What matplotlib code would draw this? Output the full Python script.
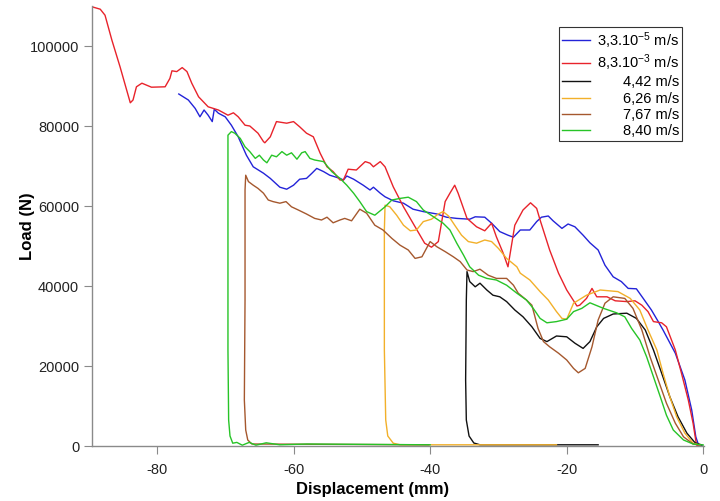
import numpy as np
import matplotlib
matplotlib.use("Agg")
import matplotlib.pyplot as plt

plt.rcParams['font.family'] = ['Liberation Sans', 'DejaVu Sans']
plt.rcParams['mathtext.fontset'] = 'custom'
plt.rcParams['mathtext.rm'] = 'Liberation Sans'
plt.rcParams['mathtext.default'] = 'regular'
plt.rcParams['axes.unicode_minus'] = False

# load-displacement curves (displacement mm, load N)
labels = [r"3,3.10$^{-5}$ m/s", r"8,3.10$^{-3}$ m/s", "4,42 m/s",
          "6,26 m/s", "7,67 m/s", "8,40 m/s"]
colors = ["#2323d8", "#e8232b", "#111111", "#f2b02a", "#a5582e", "#27c427"]

blue_x = [-76.8, -75.4, -74.4, -73.7, -73.1, -72.5, -71.9, -71.6, -71.0, -70.0,
          -69.1, -68.1, -66.9, -65.9, -64.4, -63.4, -62.0, -61.0, -60.0, -59.1,
          -58.1, -57.3, -56.6, -55.6, -54.7, -53.2, -52.7, -52.2, -51.2, -49.8,
          -48.8, -48.3, -47.3, -46.6, -45.4, -43.9, -42.5, -41.0, -39.0, -37.6,
          -36.1, -34.2, -33.4, -32.0, -31.0, -29.8, -28.6, -27.8, -26.8, -25.4,
          -24.4, -23.7, -22.7, -22.0, -20.7, -19.8, -18.8, -17.6, -16.6, -15.4,
          -14.4, -13.2, -12.0, -11.0, -9.8, -8.8, -7.6, -6.6, -5.9, -4.1,
          -2.7, -1.7, -1.1, -0.7, -0.2]
blue_y = [88000, 86500, 84400, 82300, 84000, 82700, 81100, 84200, 83200, 82300,
          80200, 77300, 72700, 69800, 68200, 66900, 64700, 64200, 65200, 66700,
          66900, 68200, 69400, 68600, 67700, 66900, 66500, 67500, 66700, 65200,
          64000, 64700, 63200, 62300, 61300, 60700, 59200, 58600, 58000, 57200,
          56900, 56700, 57300, 57200, 55700, 53600, 52700, 52200, 54000, 54000,
          56100, 57200, 57500, 56300, 54400, 55500, 54800, 52700, 50800, 49000,
          45200, 42300, 41100, 39400, 39300, 36900, 34000, 31100, 29000, 23200,
          16500, 9000, 2300, 250, 0]

red_x = [-89.5, -88.3, -87.6, -86.6, -85.4, -83.9, -83.5, -83.0, -82.2, -80.8,
         -78.8, -78.1, -77.8, -77.1, -76.3, -75.6, -74.9, -73.9, -72.5, -71.0,
         -69.6, -68.8, -68.1, -67.1, -66.4, -65.2, -64.4, -64.2, -63.4, -62.5,
         -61.0, -60.0, -59.1, -58.1, -57.1, -56.1, -55.1, -54.2, -53.2, -52.7,
         -52.0, -50.8, -49.5, -48.8, -48.3, -47.3, -46.6, -45.4, -43.9, -42.2,
         -40.8, -39.8, -38.8, -37.8, -37.1, -36.4, -35.9, -34.6, -33.2, -32.0,
         -31.0, -30.3, -29.3, -28.6, -27.6, -26.4, -25.3, -24.4, -23.9, -22.5,
         -21.2, -20.0, -18.5, -18.1, -17.1, -16.3, -15.6, -14.1, -12.9, -11.2,
         -10.0, -9.0, -8.1, -7.3, -6.1, -5.4, -4.1, -3.2, -2.2, -1.5, -1.0, -0.5]
red_y = [109800, 109200, 107700, 101500, 94800, 85800, 86500, 89800, 90700, 89700,
         89800, 91900, 93800, 93600, 94600, 93600, 90700, 87300, 84800, 84000,
         82700, 83300, 82300, 80200, 80000, 78200, 76100, 75800, 77300, 81100,
         80700, 81100, 79800, 78200, 77300, 73200, 69800, 68600, 66500, 66500,
         69200, 69000, 71100, 70700, 69800, 71100, 69800, 64800, 59800, 54800,
         50700, 49700, 51100, 61100, 63200, 65200, 63200, 56900, 54800, 53800,
         55700, 52300, 48200, 44800, 55200, 59000, 60800, 59400, 56500, 49000,
         43200, 39000, 35000, 35200, 36900, 39400, 37300, 37300, 36300, 36100,
         36300, 35200, 33600, 31100, 30800, 29800, 24000, 18200, 11500, 5700, 250, 0]

black_x = [-15.4, -32.7, -33.6, -34.3, -34.7, -34.8, -34.7, -34.6, -34.2, -33.4,
           -32.7, -31.7, -30.8, -29.8, -28.8, -27.6, -26.4, -25.1, -23.9, -22.9,
           -21.5, -20.0, -18.8, -17.6, -16.6, -15.6, -14.6, -13.2, -11.2, -9.8,
           -8.5, -7.3, -6.1, -4.9, -3.7, -2.4, -1.2, -0.2]
black_y = [300, 300, 750, 2500, 6500, 16500, 36500, 43600, 41100, 39800,
           40700, 39000, 37700, 37300, 36100, 34000, 32300, 29800, 26900, 26100,
           27500, 27300, 25700, 24400, 26100, 29800, 31900, 33000, 33200, 31900,
           29000, 24000, 18200, 12300, 7300, 3200, 800, 250]

orange_x = [-21.5, -44.4, -45.4, -46.2, -46.5, -46.7, -46.7, -46.6, -45.9, -44.9,
            -43.9, -42.9, -42.0, -41.0, -39.8, -38.8, -38.1, -37.3, -36.4, -35.4,
            -34.4, -33.2, -32.0, -31.0, -30.0, -28.8, -27.3, -26.8, -25.4, -23.9,
            -22.7, -21.5, -20.7, -20.0, -19.0, -17.1, -15.1, -12.5, -10.7, -9.3,
            -8.1, -6.8, -5.9, -4.9, -3.9, -2.7, -1.5, -0.5]
orange_y = [300, 300, 700, 2500, 6500, 24000, 54000, 60200, 59800, 57700,
            55200, 53800, 54000, 56100, 56700, 58000, 58600, 57500, 55200, 52700,
            51100, 50700, 51500, 51100, 49400, 46900, 44800, 43200, 41500, 38600,
            36500, 33600, 31900, 31700, 35700, 37700, 39000, 38600, 36900, 34000,
            29000, 24000, 18200, 12300, 7300, 3200, 700, 250]

brown_x = [-40.2, -66.1, -66.7, -67.0, -67.2, -67.1, -67.1, -67.0, -66.6, -65.9,
           -65.2, -64.4, -63.7, -63.0, -62.0, -61.1, -60.3, -59.3, -58.1, -56.9,
           -55.9, -55.1, -54.2, -53.2, -52.5, -51.5, -50.3, -49.3, -48.1, -46.9,
           -45.6, -44.4, -43.2, -42.2, -41.2, -40.0, -39.0, -37.8, -36.6, -35.6,
           -34.6, -33.7, -32.7, -31.5, -30.3, -28.8, -27.8, -27.1, -25.9, -25.1,
           -24.2, -23.4, -22.5, -21.2, -20.0, -19.0, -18.3, -17.3, -16.3, -15.4,
           -14.4, -13.2, -11.5, -10.3, -9.0, -7.8, -6.6, -5.4, -4.1, -2.9, -1.5, -0.5]
brown_y = [300, 500, 1500, 4000, 11500, 36500, 64000, 67700, 66100, 65200,
           64400, 63200, 61500, 61100, 60700, 61100, 59800, 59000, 58000, 56900,
           56500, 57200, 55800, 56500, 56900, 56300, 59200, 58200, 55200, 54000,
           51900, 50200, 49000, 46900, 47300, 51100, 49800, 48600, 47300, 46100,
           44000, 43600, 44200, 42700, 41900, 41900, 40200, 38200, 36500, 35200,
           29400, 26100, 24800, 23200, 21500, 19400, 18300, 19400, 24800, 31500,
           35700, 37300, 36900, 34400, 29000, 22300, 16500, 10700, 5700, 2300, 500, 250]

green_x = [-40.0, -58.0, -62.0, -64.0, -65.5, -66.5, -67.5, -68.3, -68.9, -69.3,
           -69.5, -69.6, -69.6, -69.6, -69.1, -68.6, -67.8, -67.1, -66.4, -65.6,
           -65.0, -64.4, -63.9, -63.2, -62.5, -61.7, -61.0, -60.3, -59.5, -58.8,
           -58.3, -57.6, -56.9, -55.6, -54.4, -53.2, -52.2, -51.2, -50.3, -49.3,
           -48.1, -46.6, -45.6, -44.4, -43.2, -42.0, -41.0, -39.5, -38.1, -37.1,
           -36.1, -35.1, -34.2, -32.9, -31.7, -30.3, -28.8, -27.3, -25.9, -24.9,
           -23.9, -22.9, -21.5, -20.0, -19.0, -17.8, -16.6, -14.6, -12.7, -11.5,
           -10.5, -9.3, -8.3, -7.3, -6.3, -5.4, -4.4, -2.9, -1.5, 0.0]
green_y = [300, 500, 300, 800, 200, 900, 200, 900, 700, 2500,
           6500, 24000, 61500, 77700, 78600, 78200, 76900, 74800, 73600, 71900,
           72700, 71500, 70800, 72700, 72300, 73600, 72700, 73300, 71700, 73300,
           73600, 71900, 71500, 71100, 68600, 66900, 65200, 63200, 61100, 58600,
           57700, 59800, 61500, 61900, 62200, 61100, 59000, 57300, 55700, 54000,
           50700, 47700, 44800, 42700, 41900, 41500, 40200, 38200, 36500, 34400,
           31900, 30800, 31100, 31700, 33600, 34400, 35800, 34400, 33300, 32300,
           29400, 26500, 22300, 17300, 12300, 7700, 4000, 1500, 500, 250]

series_x = [blue_x, red_x, black_x, orange_x, brown_x, green_x]
series_y = [blue_y, red_y, black_y, orange_y, brown_y, green_y]

fig = plt.figure(figsize=(7.2, 5.01), dpi=100)
ax = fig.add_axes([91.7 / 720, 1 - 446 / 501, 612.3 / 720, 440 / 501])

for xs, ys, c, lab in zip(series_x, series_y, colors, labels):
    ax.plot(xs, ys, color=c, lw=1.0, label=lab)

ax.set_xlim(-89.55, 0.1)
ax.set_ylim(0, 110000)
ax.set_xticks(np.arange(-80, 1, 20))
ax.set_yticks(np.arange(0, 100001, 20000))
for s in ["top", "right"]:
    ax.spines[s].set_visible(False)
for s in ["left", "bottom"]:
    ax.spines[s].set_color("#8a8a8a")
    ax.spines[s].set_linewidth(1.0)
ax.tick_params(direction="out", length=6, width=0.8, color="#8a8a8a",
               labelsize=10.5, labelcolor="#222222", pad=3)
ax.tick_params(axis="x", pad=6)

ax.set_xlabel("Displacement (mm)", fontsize=12, fontweight="bold")
ax.set_ylabel("Load (N)", fontsize=12, fontweight="bold")
ax.xaxis.set_label_coords(0.459, -0.082)
ax.yaxis.set_label_coords(-0.093, 0.5)

leg = ax.legend(loc="upper left", bbox_to_anchor=(559 / 720, 1 - 27 / 501),
                bbox_transform=fig.transFigure, borderaxespad=0, fontsize=10.5,
                frameon=True, fancybox=False, edgecolor="black",
                handlelength=1.9, handletextpad=0.5, labelspacing=0.15,
                borderpad=0.2)
leg.get_frame().set_linewidth(0.8)

# right-align the legend texts
fig.canvas.draw()
r = fig.canvas.get_renderer()
widths = [t.get_window_extent(r).width for t in leg.get_texts()]
wmax = max(widths)
for t, w in zip(leg.get_texts(), widths):
    t.set_x(wmax - w)

fig.savefig("out.png", dpi=100)
